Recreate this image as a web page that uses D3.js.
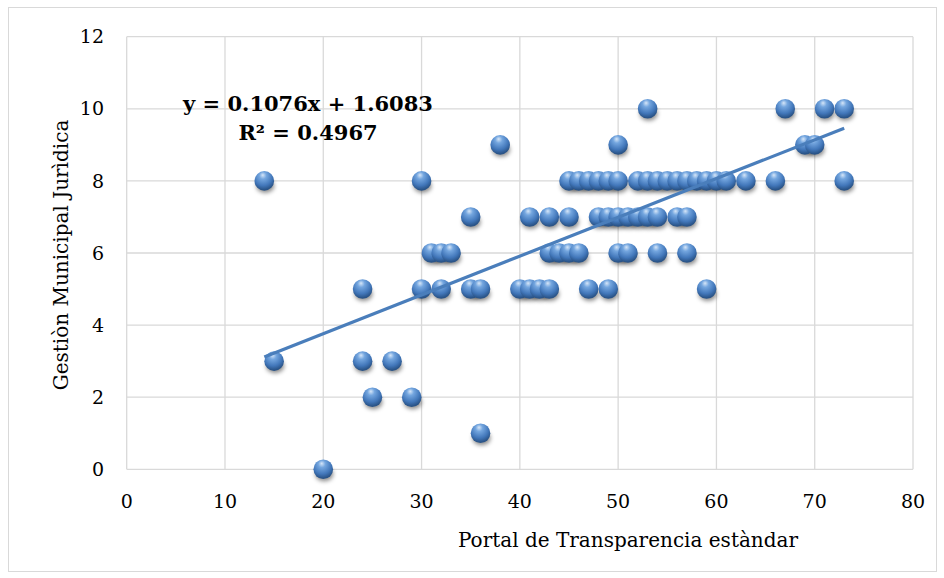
<!DOCTYPE html>
<html>
<head>
<meta charset="utf-8">
<script src="https://cdn.jsdelivr.net/npm/d3@7"></script>
<style>
  body { margin: 0; background: #fff; }
  text { font-family: "DejaVu Serif", "Liberation Serif", serif; }
</style>
</head>
<body>
<script>
// data: x = portal score, y = gestion score
var row10 = [53, 67, 71, 73];
var row9 = [38, 50, 69, 70];
var row8 = [14, 30, 45, 46, 47, 48, 49, 50, 52, 53, 54, 55, 56, 57, 58, 59, 60, 61, 63, 66, 73];
var row7 = [35, 41, 43, 45, 48, 49, 50, 51, 52, 53, 54, 56, 57];
var row6 = [31, 32, 33, 43, 44, 45, 46, 50, 51, 54, 57];
var row5 = [24, 30, 32, 35, 36, 40, 41, 42, 43, 47, 49, 59];
var row3 = [15, 24, 27];
var row2 = [25, 29];
var row1 = [36];
var row0 = [20];

var trendSlope = 0.1076;
var trendIntercept = 1.6083;
var eqLabels = ["y = 0.1076x + 1.6083", "R² = 0.4967"];

var xTicks = [0, 10, 20, 30, 40, 50, 60, 70, 80];
var yTicks = [0, 2, 4, 6, 8, 10, 12];

var points = [];
[[10, row10], [9, row9], [8, row8], [7, row7], [6, row6], [5, row5],
 [3, row3], [2, row2], [1, row1], [0, row0]].forEach(function(r) {
  r[1].forEach(function(v) { points.push({x: v, y: r[0]}); });
});

var svg = d3.select("body").append("svg")
            .attr("width", 944)
            .attr("height", 578);

// outer chart frame
svg.append("rect")
   .attr("x", 8.5).attr("y", 7.5)
   .attr("width", 928).attr("height", 564)
   .style("fill", "none")
   .style("stroke", "#d9d9d9");

var x = d3.scaleLinear().domain([0, 80]).range([126.7, 913]);
var y = d3.scaleLinear().domain([0, 12]).range([469.3, 36.7]);

var defs = svg.append("defs");
var grad = defs.append("radialGradient")
               .attr("id", "ball")
               .attr("cx", "45%").attr("cy", "30%")
               .attr("r", "65%")
               .attr("fx", "42%").attr("fy", "20%");
grad.append("stop").attr("offset", "0%").attr("stop-color", "#d6e6f8");
grad.append("stop").attr("offset", "28%").attr("stop-color", "#74a6df");
grad.append("stop").attr("offset", "72%").attr("stop-color", "#4277ba");
grad.append("stop").attr("offset", "100%").attr("stop-color", "#2a5488");

var blur = defs.append("filter").attr("id", "shadow")
               .attr("x", "-50%").attr("y", "-50%")
               .attr("width", "200%").attr("height", "200%");
blur.append("feGaussianBlur").attr("stdDeviation", 2.2);

// grid
svg.append("g")
   .selectAll("line.h")
   .data(yTicks)
   .enter().append("line")
   .attr("x1", x(0)).attr("x2", x(80))
   .attr("y1", function(d) { return y(d); })
   .attr("y2", function(d) { return y(d); })
   .style("stroke", "#d9d9d9")
   .style("stroke-width", 1.3);

svg.append("g")
   .selectAll("line.v")
   .data(xTicks)
   .enter().append("line")
   .attr("y1", y(0)).attr("y2", y(12))
   .attr("x1", function(d) { return x(d); })
   .attr("x2", function(d) { return x(d); })
   .style("stroke", "#d9d9d9")
   .style("stroke-width", 1.3);

// tick labels
svg.append("g")
   .selectAll("text")
   .data(yTicks)
   .enter().append("text")
   .attr("x", 104)
   .attr("y", function(d) { return y(d); })
   .attr("dy", "0.35em")
   .attr("text-anchor", "end")
   .style("font-size", "19px")
   .text(function(d) { return d; });

svg.append("g")
   .selectAll("text")
   .data(xTicks)
   .enter().append("text")
   .attr("x", function(d) { return x(d); })
   .attr("y", 501)
   .attr("dy", "0.35em")
   .attr("text-anchor", "middle")
   .style("font-size", "19px")
   .text(function(d) { return d; });

// axis titles
svg.append("text")
   .attr("x", 628).attr("y", 540)
   .attr("dy", "0.35em")
   .attr("text-anchor", "middle")
   .style("font-size", "20px")
   .text("Portal de Transparencia estàndar");

svg.append("text")
   .attr("transform", "translate(61,255) rotate(-90)")
   .attr("dy", "0.35em")
   .attr("text-anchor", "middle")
   .style("font-size", "20px")
   .text("Gestiòn Municipal Jurìdica");

// shadows then balls
var g = svg.append("g");
g.selectAll("ellipse")
 .data(points)
 .enter().append("ellipse")
 .attr("cx", function(d) { return x(d.x) + 1; })
 .attr("cy", function(d) { return y(d.y) + 5; })
 .attr("rx", 9).attr("ry", 7)
 .style("fill", "rgba(0,0,0,0.45)")
 .attr("filter", "url(#shadow)");

g.selectAll("circle")
 .data(points)
 .enter().append("circle")
 .attr("cx", function(d) { return x(d.x); })
 .attr("cy", function(d) { return y(d.y); })
 .attr("r", 9.8)
 .style("fill", "url(#ball)");

// trendline
var xExt = d3.extent(points, function(d) { return d.x; });
svg.append("line")
   .attr("x1", x(xExt[0]))
   .attr("y1", y(trendSlope * xExt[0] + trendIntercept))
   .attr("x2", x(xExt[1]))
   .attr("y2", y(trendSlope * xExt[1] + trendIntercept))
   .style("stroke", "#4a7ebb")
   .style("stroke-width", 3.2);

// equation label
svg.append("g")
   .selectAll("text")
   .data(eqLabels)
   .enter().append("text")
   .attr("x", 308)
   .attr("y", function(d, i) { return 104 + i * 29; })
   .attr("dy", "0.35em")
   .attr("text-anchor", "middle")
   .style("font-size", "21px")
   .style("font-weight", "bold")
   .text(function(d) { return d; });
</script>
</body>
</html>
